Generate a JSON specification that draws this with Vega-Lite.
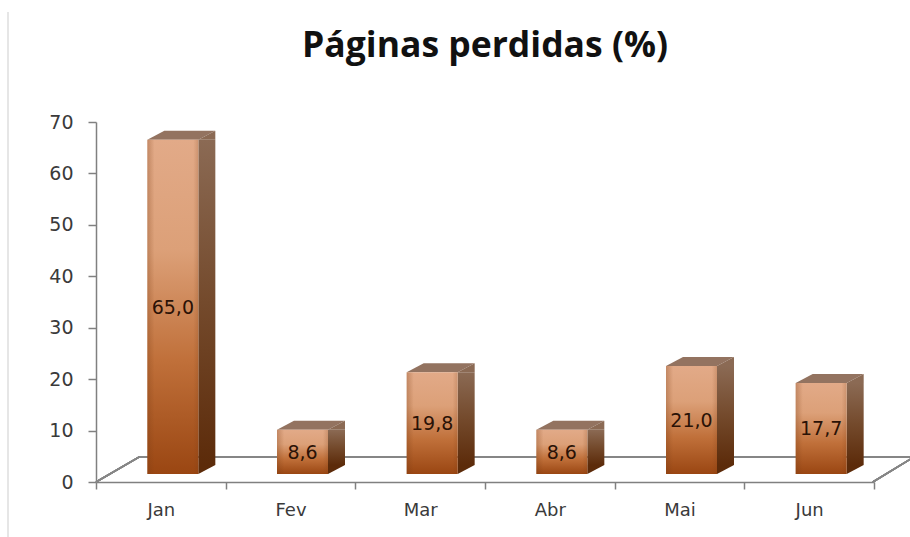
{
"$schema":"https://vega.github.io/schema/vega-lite/v6.json",
"width":778,"height":360,
"autosize":"none",
"padding":{"left":96,"top":122,"right":36,"bottom":55},
"background":"white",
"view":{"stroke":null},
"title":{"text":"Páginas perdidas (%)","font":"Open Sans","fontSize":35.5,"fontWeight":"bold","color":"#111111","anchor":"middle","offset":-55},
"config":{"axis":{"labelFont":"DejaVu Sans","labelFontSize":18,"labelColor":"#3a3a3a","domainColor":"#808080","tickColor":"#808080","domainWidth":1.5,"tickWidth":1.5,"grid":false,"title":null}},
"data":{"values":[
{"mes":"Jan","valor":65.0,"rotulo":"65,0"},
{"mes":"Fev","valor":8.6,"rotulo":"8,6"},
{"mes":"Mar","valor":19.8,"rotulo":"19,8"},
{"mes":"Abr","valor":8.6,"rotulo":"8,6"},
{"mes":"Mai","valor":21.0,"rotulo":"21,0"},
{"mes":"Jun","valor":17.7,"rotulo":"17,7"}
]},
"resolve":{"scale":{"y":"independent"}},
"layer":[
{
"encoding":{
 "x":{"field":"mes","type":"nominal","sort":null,"scale":{"paddingInner":0,"paddingOuter":0},"axis":{"tickBand":"extent","labelAngle":0,"tickSize":7,"labelPadding":12}}
},
"layer":[
 {"mark":{"type":"point","filled":false,"stroke":"#e6e6e6","strokeWidth":1.5,"opacity":1,"size":4,"clip":false,
   "shape":"M-152.8,-470 L-152.8,55"},
  "encoding":{"x":{"datum":"Jan"},"y":{"datum":0,"type":"quantitative","scale":{"domain":[0,70],"nice":false},"axis":{"values":[0,10,20,30,40,50,60,70],"tickSize":8,"labelPadding":15,"labelFontSize":19}}}},
 {"mark":{"type":"point","filled":false,"stroke":"#868686","strokeWidth":1.5,"opacity":1,"size":4,"clip":false,
   "shape":"M-64.8,0 L-21.8,-25 L753,-25 L712,0"},
  "encoding":{"x":{"datum":"Jan"},"y":{"datum":0,"type":"quantitative"}}},
 {"mark":{"type":"point","filled":true,"opacity":1,"size":4,"stroke":null,"fill":"#937360","shape":"M-13.5,-8 L3.5,-17 L54.5,-17 L37.5,-8 Z"},
  "encoding":{"y":{"field":"valor","type":"quantitative"}}},
 {"mark":{"type":"point","filled":true,"opacity":1,"size":4,"stroke":null,"fill":"#8b6a54","shape":"M37.5,-8 L54.5,-17 L54.5,-8 Z"},
  "encoding":{"y":{"field":"valor","type":"quantitative"}}},
 {"mark":{"type":"point","filled":true,"opacity":1,"size":4,"stroke":null,"fill":"#5c2b0a","shape":"M37.5,-8 L54.5,-17 L37.5,-17 Z"},
  "encoding":{"y":{"datum":0,"type":"quantitative"}}},
 {"mark":{"type":"bar","size":17,"xOffset":46,"yOffset":-8,"y2Offset":-17,
   "fill":{"x1":0,"y1":0,"x2":0,"y2":1,"gradient":"linear","stops":[{"offset":0,"color":"#8b6a54"},{"offset":0.5,"color":"#744a2c"},{"offset":1,"color":"#5c2b0a"}]}},
  "encoding":{"y":{"field":"valor","type":"quantitative","stack":null},"y2":{"datum":0}}},
 {"mark":{"type":"bar","size":51,"xOffset":12,"yOffset":-8,"y2Offset":-8,
   "fill":{"x1":0,"y1":0,"x2":0,"y2":1,"gradient":"linear","stops":[{"offset":0,"color":"#e2aa88"},{"offset":0.33,"color":"#dca078"},{"offset":0.66,"color":"#c0703a"},{"offset":1,"color":"#9a4612"}]}},
  "encoding":{"y":{"field":"valor","type":"quantitative","stack":null},"y2":{"datum":0}}},
 {"mark":{"type":"bar","size":51,"xOffset":12,"yOffset":-8,"y2Offset":-8,
   "fill":{"x1":0,"y1":0,"x2":1,"y2":0,"gradient":"linear","stops":[{"offset":0,"color":"rgba(122,60,20,0.3)"},{"offset":0.14,"color":"rgba(122,60,20,0)"},{"offset":0.9,"color":"rgba(122,60,20,0)"},{"offset":1,"color":"rgba(122,60,20,0.2)"}]}},
  "encoding":{"y":{"field":"valor","type":"quantitative","stack":null},"y2":{"datum":0}}}
]},
{
 "mark":{"type":"text","font":"DejaVu Sans","fontSize":19,"color":"#2a1206","baseline":"middle","xOffset":12,"yOffset":-7},
 "encoding":{
  "x":{"field":"mes","type":"nominal","sort":null},
  "y":{"field":"valor","type":"quantitative","scale":{"domain":[0,140],"nice":false},"axis":null},
  "text":{"field":"rotulo","type":"nominal"}
 }
}
]
}
